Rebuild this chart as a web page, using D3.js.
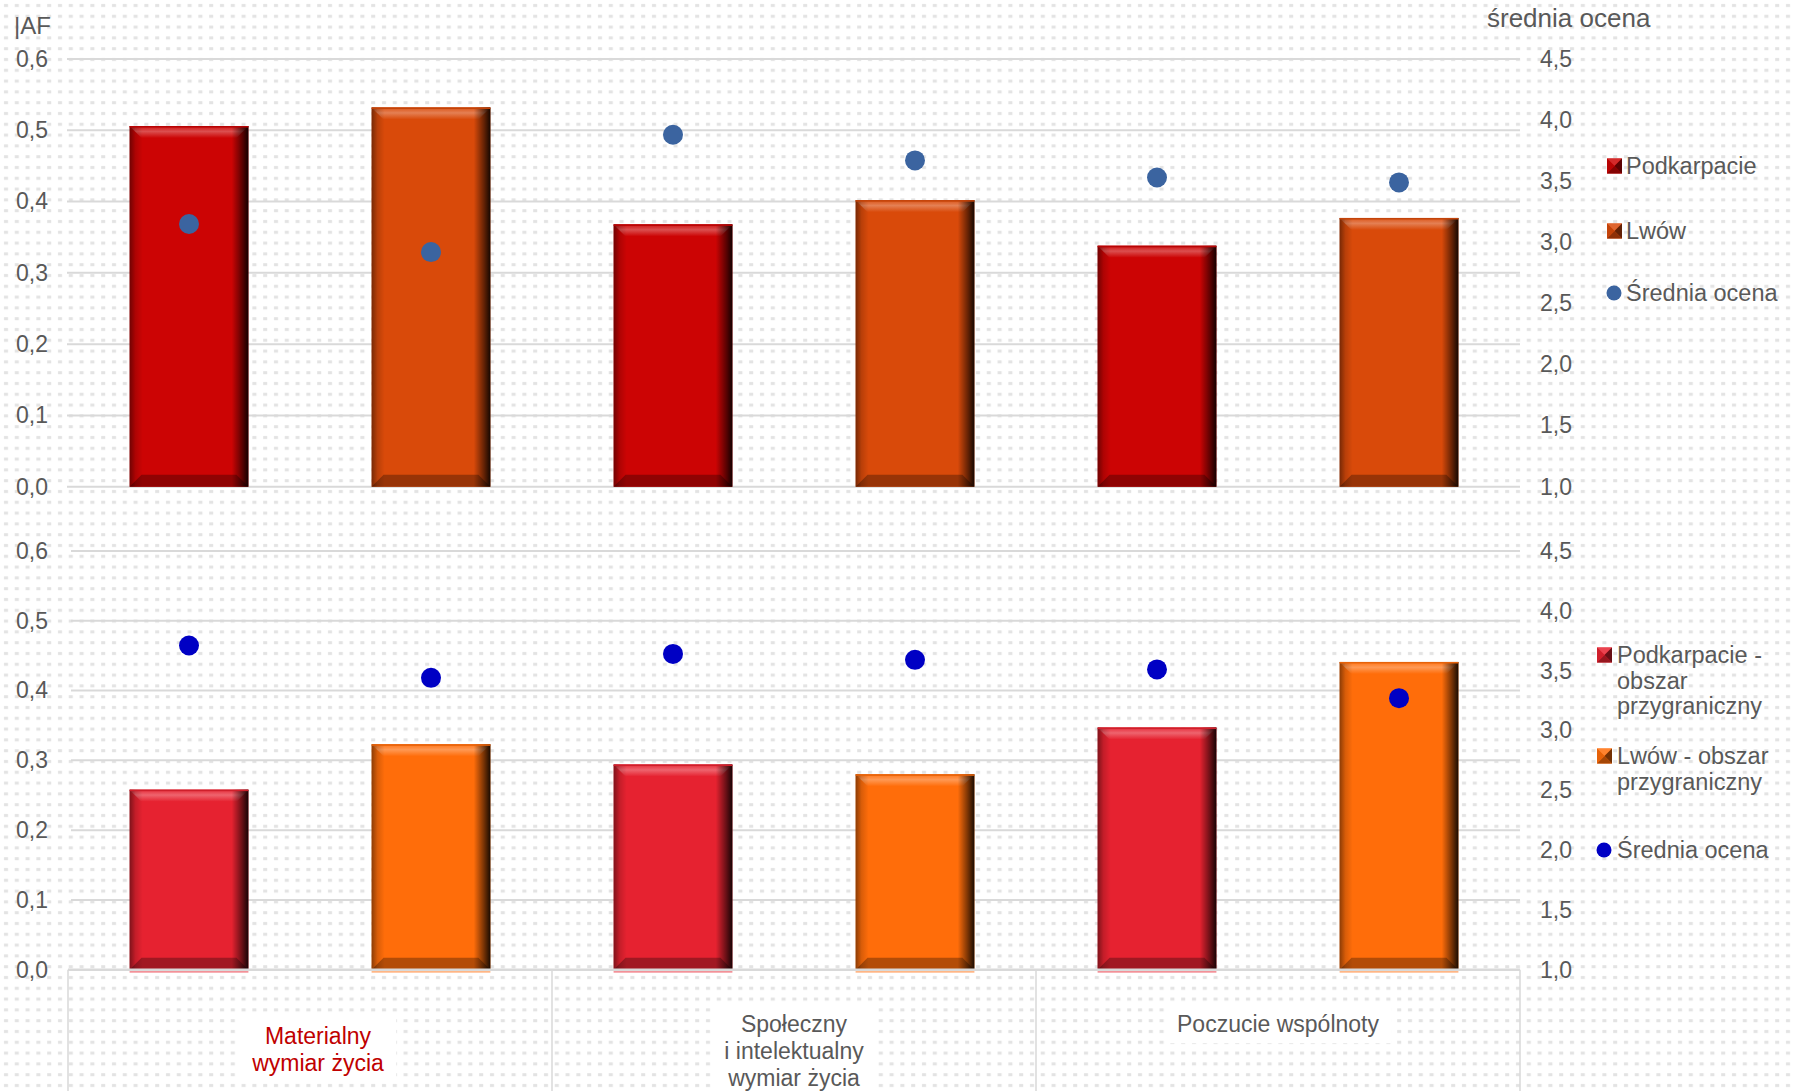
<!DOCTYPE html>
<html>
<head>
<meta charset="utf-8">
<script src="https://cdn.jsdelivr.net/npm/d3@7"></script>
<style>
  html, body { margin: 0; padding: 0; background: #ffffff; }
  svg { display: block; font-family: "Liberation Sans", Arial, sans-serif; }
</style>
</head>
<body>
<svg id="chart" width="1794" height="1091"></svg>
<script>
// ---------------- DATA ----------------
const categories = [
  ["Materialny", "wymiar życia"],
  ["Społeczny", "i intelektualny", "wymiar życia"],
  ["Poczucie wspólnoty"]
];
const categoryColors = ["#C00000", "#595959", "#595959"];

// Top panel
const topPodkarpacie = [0.506, 0.368, 0.338];
const topLwow        = [0.532, 0.402, 0.377];
const topSredniaPodkarpacie = [3.15, 3.88, 3.53];
const topSredniaLwow        = [2.92, 3.67, 3.49];

// Bottom panel
const botPodkarpacie = [0.258, 0.294, 0.347];
const botLwow        = [0.323, 0.280, 0.441];
const botSredniaPodkarpacie = [3.71, 3.64, 3.51];
const botSredniaLwow        = [3.44, 3.59, 3.27];

const leftTicks  = [0, 0.1, 0.2, 0.3, 0.4, 0.5, 0.6];
const rightTicks = [1.0, 1.5, 2.0, 2.5, 3.0, 3.5, 4.0, 4.5];

const leftTitle  = "|AF";
const rightTitle = "średnia ocena";
const topLegend = [
  { label: ["Podkarpacie"], type: "bar", color: "#CC0404" },
  { label: ["Lwów"], type: "bar", color: "#D94A0A" },
  { label: ["Średnia ocena"], type: "dot", color: "#3B64A0" }
];
const botLegend = [
  { label: ["Podkarpacie -", "obszar", "przygraniczny"], type: "bar", color: "#E62230" },
  { label: ["Lwów - obszar", "przygraniczny"], type: "bar", color: "#FF6D0A" },
  { label: ["Średnia ocena"], type: "dot", color: "#0000C4" }
];

// ---------------- SETUP ----------------
const svg = d3.select("#chart");
const W = 1794, H = 1091;
const textColor = "#595959";
const gridColor = "#d9d9d9";
const fmt = d3.formatLocale({ decimal: ",", thousands: " ", grouping: [3], currency: ["", ""] }).format(".1f");

const defs = svg.append("defs");
// dotted background pattern
const pat = defs.append("pattern").attr("id", "dots").attr("patternUnits", "userSpaceOnUse")
  .attr("width", 10.8).attr("height", 10.8);
pat.append("rect").attr("width", 10.8).attr("height", 10.8).attr("fill", "#ffffff");
pat.append("rect").attr("x", 4).attr("y", 4).attr("width", 4).attr("height", 3).attr("fill", "#e3e3e3");
svg.append("rect").attr("width", W).attr("height", H).attr("fill", "url(#dots)");

// side shading gradient for bevel bars
const side = defs.append("linearGradient").attr("id", "sideShade").attr("x1", 0).attr("x2", 1).attr("y1", 0).attr("y2", 0);
[[0, 0.45], [0.05, 0.15], [0.11, 0], [0.86, 0], [0.94, 0.5], [1, 0.9]].forEach(([o, a]) =>
  side.append("stop").attr("offset", o).attr("stop-color", "#000").attr("stop-opacity", a));

function lighten(c, k) { return d3.interpolateRgb(c, "#ffffff")(k); }
function darken(c, k) { return d3.interpolateRgb(c, "#000000")(k); }

let gid = 0;
function topBevelGrad(color) {
  const id = "tb" + (gid++);
  const g = defs.append("linearGradient").attr("id", id).attr("x1", 0).attr("x2", 0).attr("y1", 0).attr("y2", 1);
  g.append("stop").attr("offset", 0).attr("stop-color", lighten(color, 0.05));
  g.append("stop").attr("offset", 0.45).attr("stop-color", lighten(color, 0.3));
  g.append("stop").attr("offset", 1).attr("stop-color", color);
  return id;
}

// ---------------- SCALES ----------------
const xRange = [68, 1520];
const x0 = d3.scaleBand().domain(d3.range(categories.length)).range(xRange).padding(0);
const x1 = d3.scaleBand().domain([0, 1]).range([0, x0.bandwidth()]).paddingInner(0.509).paddingOuter(0.2545);

const panels = [
  { top: 59, bottom: 486.7, gridX0: 67, series: [topPodkarpacie, topLwow], dots: [topSredniaPodkarpacie, topSredniaLwow],
    colors: ["#CC0404", "#D94A0A"], dotColor: "#3B64A0", legend: topLegend, legendPos: { x: 1607, y: 166, textX: 1626, rows: [0, 65, 127] } },
  { top: 551, bottom: 969.7, gridX0: 71, series: [botPodkarpacie, botLwow], dots: [botSredniaPodkarpacie, botSredniaLwow],
    colors: ["#E62230", "#FF6D0A"], dotColor: "#0000C4", legend: botLegend, legendPos: { x: 1597, y: 655, textX: 1617, rows: [0, 101, 195] } }
];

panels.forEach((p, pi) => {
  const yL = d3.scaleLinear().domain([0, 0.6]).range([p.bottom, p.top]);
  const yR = d3.scaleLinear().domain([1, 4.5]).range([p.bottom, p.top]);
  const g = svg.append("g");

  // gridlines
  g.selectAll("line.grid").data(leftTicks.filter(t => pi === 0 || t > 0)).enter().append("line")
    .attr("x1", p.gridX0).attr("x2", xRange[1])
    .attr("y1", d => yL(d)).attr("y2", d => yL(d))
    .attr("stroke", gridColor).attr("stroke-width", 2);

  // left axis
  const la = g.append("g").attr("transform", `translate(${48},0)`)
    .call(d3.axisLeft(yL).tickValues(leftTicks).tickFormat(fmt).tickSize(0).tickPadding(0));
  la.select(".domain").remove();
  la.selectAll("text").attr("fill", textColor).style("font-size", "23px").style("font-family", "Liberation Sans, Arial, sans-serif");

  // right axis
  const ra = g.append("g").attr("transform", `translate(${1540},0)`)
    .call(d3.axisRight(yR).tickValues(rightTicks).tickFormat(fmt).tickSize(0).tickPadding(0));
  ra.select(".domain").remove();
  ra.selectAll("text").attr("fill", textColor).style("font-size", "23px").style("font-family", "Liberation Sans, Arial, sans-serif");

  // bars
  p.series.forEach((vals, si) => {
    const color = p.colors[si];
    const tb = topBevelGrad(color);
    vals.forEach((v, ci) => {
      const bx = x0(ci) + x1(si), bw = x1.bandwidth();
      const by = yL(v), bh = yL(0) - yL(v);
      const b = 12;
      const bg = g.append("g");
      bg.append("rect").attr("x", bx).attr("y", by).attr("width", bw).attr("height", bh).attr("fill", color);
      bg.append("polygon").attr("points", [[bx, by], [bx + bw, by], [bx + bw - b, by + b], [bx + b, by + b]].join(" "))
        .attr("fill", `url(#${tb})`);
      bg.append("polygon").attr("points", [[bx, by + bh], [bx + bw, by + bh], [bx + bw - b, by + bh - b], [bx + b, by + bh - b]].join(" "))
        .attr("fill", darken(color, 0.3));
      bg.append("rect").attr("x", bx).attr("y", by).attr("width", bw).attr("height", bh).attr("fill", "url(#sideShade)");
      bg.append("rect").attr("x", bx).attr("y", by).attr("width", bw).attr("height", 1.5).attr("fill", darken(color, 0.1));
      if (pi === 1) {
        bg.append("rect").attr("x", bx).attr("y", yL(0) + 1).attr("width", bw).attr("height", 2).attr("fill", lighten(color, 0.5));
      }
    });
  });

  // dots
  p.dots.forEach((vals, si) => {
    g.selectAll(null).data(vals).enter().append("circle")
      .attr("cx", (d, ci) => x0(ci) + x1(si) + x1.bandwidth() / 2)
      .attr("cy", d => yR(d))
      .attr("r", 10)
      .attr("fill", p.dotColor);
  });

  // legend
  const lp = p.legendPos;
  p.legend.forEach((it, i) => {
    const cy = lp.y + lp.rows[i];
    const lg = svg.append("g");
    if (it.type === "bar") {
      const s = 15, x = lp.x, y = cy - s / 2, c = [x + s / 2, cy];
      lg.append("rect").attr("x", x).attr("y", y).attr("width", s).attr("height", s).attr("fill", it.color);
      lg.append("polygon").attr("points", [[x, y], [x + s, y], c].join(" ")).attr("fill", lighten(it.color, 0.15));
      lg.append("polygon").attr("points", [[x + s, y], [x + s, y + s], c].join(" ")).attr("fill", darken(it.color, 0.55));
      lg.append("polygon").attr("points", [[x, y + s], [x + s, y + s], c].join(" ")).attr("fill", darken(it.color, 0.35));
      lg.append("polygon").attr("points", [[x, y], [x, y + s], c].join(" ")).attr("fill", darken(it.color, 0.1));
    } else {
      lg.append("circle").attr("cx", lp.x + 7).attr("cy", cy).attr("r", 7.5).attr("fill", it.color);
    }
    const t = lg.append("text").attr("x", lp.textX).attr("y", cy + 8).attr("fill", textColor)
      .style("font-size", "23.5px");
    it.label.forEach((line, li) => {
      t.append("tspan").attr("x", lp.textX).attr("dy", li === 0 ? 0 : 25.5).text(line);
    });
  });
});

// axis titles
svg.append("text").attr("x", 14).attr("y", 34).attr("fill", textColor).style("font-size", "24px").text(leftTitle);
svg.append("text").attr("x", 1487).attr("y", 27).attr("fill", textColor).style("font-size", "26px").text(rightTitle);

// category axis (bottom)
const axisY = 969.7;
svg.append("line").attr("x1", xRange[0]).attr("x2", xRange[1]).attr("y1", axisY).attr("y2", axisY)
  .attr("stroke", gridColor).attr("stroke-width", 2.5);
const bounds = d3.range(categories.length + 1).map(i => i < categories.length ? x0(i) : xRange[1]);
svg.selectAll("line.cat").data(bounds).enter().append("line")
  .attr("x1", d => d).attr("x2", d => d).attr("y1", axisY).attr("y2", H)
  .attr("stroke", gridColor).attr("stroke-width", 1.5);

const labelShift = [8, 0, 0];
categories.forEach((lines, i) => {
  const cx = x0(i) + x0.bandwidth() / 2 + labelShift[i];
  const lineH = 27;
  const startY = lines.length === 2 ? 1044 : 1032;
  const bgG = svg.append("g");
  const t = svg.append("text").attr("text-anchor", "middle").attr("fill", categoryColors[i]).style("font-size", "23px");
  lines.forEach((ln, li) => {
    t.append("tspan").attr("x", cx).attr("y", startY + li * lineH).text(ln);
  });
  const bb = t.node().getBBox();
  bgG.append("rect").attr("x", bb.x - 12).attr("y", bb.y - 6).attr("width", bb.width + 24).attr("height", Math.min(bb.height + 12, H - bb.y + 6))
    .attr("fill", "#ffffff");
});
</script>
</body>
</html>
